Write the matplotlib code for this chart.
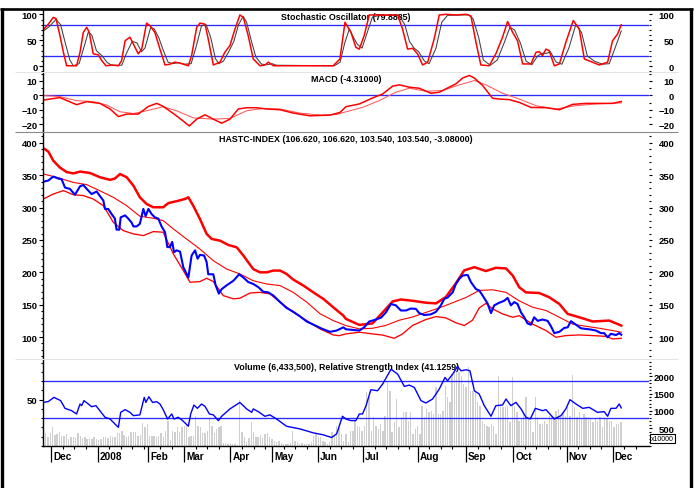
import numpy as np
import matplotlib
matplotlib.use("Agg")
import matplotlib.pyplot as plt
from matplotlib.lines import Line2D
from matplotlib.ticker import MultipleLocator
from matplotlib.transforms import offset_copy

plt.rcParams['font.family'] = ['Liberation Sans', 'DejaVu Sans']
plt.rcParams['font.weight'] = 'bold'

# ---- data (x = trading day index from the first bar) ----
month_days = [3.5, 23.5, 45.5, 61, 81, 99, 119, 138.5, 162, 183, 203.5, 226.5, 246.5]
month_labels = ['Dec', '2008', 'Feb', 'Mar', 'Apr', 'May', 'Jun', 'Jul', 'Aug', 'Sep', 'Oct', 'Nov', 'Dec']

k_day = [0, 2.2, 4.3, 5.5, 7.2, 8.7, 10.1, 14.4, 15.9, 17.3, 18.8, 19.9, 21.6, 23.8, 25.3, 27.1, 29.6,
         32.5, 33.9, 35.4, 37.5, 39.7, 41.1, 42.6, 44.7, 46.2, 48.3, 50.5, 52.7, 54.8, 57, 59.2, 62.8,
         64.2, 66.4, 67.8, 70, 71.4, 73.6, 76.5, 78.6, 80.8, 83, 85.1, 86.6, 88.7, 90.9, 93.8, 96, 97.4,
         99.6, 125.5, 128.4, 130.6, 133.2, 135.3, 136.8, 138.9, 141.1, 145.4, 153.4, 155.5, 157.7, 159.9,
         162, 164.2, 166.4, 169.2, 171.4, 174.3, 178.6, 183, 185.1, 187.3, 189.4, 193, 195.9, 198.8, 201,
         203.2, 205.3, 207.5, 211.1, 213.3, 214.7, 216.1, 217.6, 219, 221.2, 223.4, 226.2, 229.4, 232,
         234.2, 237.1, 240.7, 244.3, 246.4, 248.6, 250.2]
k_val = [70.5, 81, 94, 92, 59, 27, 1, 1, 27, 65, 75, 65, 24, 22, 11, 1, 2.5, 1, 11, 49, 56, 36.5, 24, 33,
         83, 78, 65, 33, 2.5, 4, 8, 6, 1, 20.5, 75, 83, 81, 52.5, 2.5, 8, 27, 40, 72, 98.7, 94, 59, 14, 1,
         2.5, 8, 1, 1, 14, 84.6, 65, 36.5, 33, 59, 98.7, 98.7, 98.7, 72, 33, 34.6, 24, 2.5, 8, 52.5, 98.7,
         100, 98.7, 100, 97, 46, 2.5, 1, 24, 56, 86, 65, 49, 4.5, 4.5, 27, 28, 20.5, 33, 30, 1, 4.5, 46,
         88, 72, 14, 9, 2.5, 8, 49, 62, 79.9]

d_day = [0, 2.5, 5.5, 7.5, 9.5, 11.5, 13, 15.5, 17.5, 19.5, 21, 23, 25.5, 27.5, 29.5, 34, 36, 38.5, 40.5,
         42.5, 44, 46.5, 48, 50, 52, 54, 56, 58.5, 61, 64, 66, 68.5, 70.5, 72.5, 74.5, 76, 78, 80.5, 82.5,
         84.5, 86.5, 88, 90, 92, 94.5, 97, 99, 101, 126, 128.5, 130.5, 132.5, 134, 136, 138, 140, 142.5,
         146, 154, 156.5, 158.5, 160.5, 162.5, 165, 167, 170, 172.5, 175, 184, 186, 188.5, 190.5, 193.5,
         196.5, 199.5, 202, 204, 206.5, 209, 211.5, 214, 216, 218, 219.5, 222, 224.5, 227.5, 230.5, 233,
         235.5, 238.5, 242, 245, 247.5, 250.2]
d_val = [68, 76, 90, 80, 45, 12, 1, 5, 35, 66, 60, 30, 20, 8, 2, 2, 25, 48, 45, 28, 35, 75, 72, 55, 30, 8,
         5, 7, 4, 5, 35, 78, 80, 55, 15, 5, 10, 30, 48, 80, 96, 85, 50, 18, 4, 3, 5, 2, 1, 8, 45, 72, 58,
         42, 35, 62, 95, 98, 98, 80, 48, 35, 28, 10, 5, 35, 85, 98, 99, 92, 55, 12, 2, 12, 45, 75, 70, 45,
         10, 3, 20, 25, 25, 28, 8, 4, 35, 80, 65, 20, 10, 4, 5, 35, 68]

macd_day = [0, 7.2, 14.4, 18.8, 24.5, 28.9, 32.5, 36.1, 41.1, 45.5, 49.1, 51.9, 56.3, 59.9, 63.2, 66.4,
            70, 73.6, 77.2, 80.8, 84.4, 88, 92.3, 96.7, 102.5, 108.2, 115.4, 124.1, 128.4, 131, 136.8,
            142.5, 146.9, 151.2, 154.1, 158.4, 162.7, 167.8, 171.4, 175.7, 178.6, 181.5, 184.4, 186.6,
            190.2, 194.5, 197.4, 201.7, 206, 211.1, 217.6, 223.4, 229.1, 234.9, 240.7, 246.4, 250.2]
macd_val = [-3.3, -1.6, -6.5, -4.4, -5.6, -9.5, -14.7, -13, -13, -7.7, -5.6, -7.7, -12.6, -17, -21.2,
            -16.5, -13.5, -16.5, -19.3, -16.5, -9.5, -8.6, -8.6, -9.5, -10, -12.3, -14.2, -13.7, -11.9,
            -7.9, -6, -1.9, 0.9, 6.3, 7.2, 5.6, 4.9, 1.4, 2.1, 5.6, 7.9, 11.9, 13.7, 11.9, 6.7, -2.1,
            -2.6, -3, -4.9, -8.4, -8.6, -10, -6.3, -5.6, -5.6, -5.6, -4.3]
sig_day = [0, 7.2, 14.4, 21.6, 27.4, 33.2, 39, 44.7, 51.9, 57.7, 64.9, 73.6, 80.8, 88, 95.2, 102.5,
           111.1, 119.8, 127, 131, 138.2, 145.4, 152.6, 158.4, 165.6, 172.8, 180.1, 186.6, 191.6, 198.8,
           206, 213.3, 221.9, 230.6, 239.2, 250.2]
sig_val = [-0.2, -0.9, -3.7, -4.4, -6.7, -11.4, -12.6, -10.7, -7.9, -10.7, -15.6, -16.5, -16, -10.7,
           -9.1, -9.5, -12.3, -13.7, -13.3, -11.4, -8.4, -3.7, 2.1, 4.9, 2.8, 3.3, 7.2, 10.2, 7.2, 1.4,
           -2.6, -7.2, -9.5, -7.2, -6, -5.3]

close_day = [0, 2.2, 4.3, 6.5, 7.9, 9.4, 11.5, 13.7, 14.7, 15.9, 17.3, 18.8, 20.9, 23.1, 24.5, 26, 26.7,
             28.1, 29.6, 31, 31.7, 32.9, 33.5, 35.4, 36.8, 38.2, 39, 40.4, 41.8, 43.3, 44.3, 45.5, 46.9,
             48.3, 49.8, 51.2, 52.7, 53.7, 54.8, 55.8, 56.6, 57.7, 59.2, 60.6, 62.8, 64.2, 65.7, 66.8,
             67.8, 69.6, 70.7, 71.4, 73.6, 74.6, 76, 77.2, 79.4, 82.3, 84.8, 86.6, 88.7, 90.9, 93.1,
             95.2, 97.4, 99.6, 102.5, 105.3, 108.2, 111.1, 114, 117.6, 120.5, 124.1, 127, 129.9,
             131, 133.9, 136.8, 138.9, 141.1, 144, 146.2, 148.3, 150.5, 152.6, 154.8, 157, 159.1, 161.3,
             162.7, 164.9, 167.8, 170, 172.1, 173.6, 175, 177.2, 178.6, 180.1, 181.5, 183.7, 185.1,
             187.3, 188.7, 190.2, 192.3, 193.8, 195.2, 197.4, 199.5, 201, 202.4, 203.9, 205.3, 206.8,
             208.2, 209.6, 211.1, 212.5, 214, 216.1, 218.3, 219.7, 221.2, 223.4, 225.5, 227, 228.4,
             230.6, 232.7, 234.9, 237.1, 239.2, 241.4, 242.8, 244.3, 245.7, 247.9, 249.3, 250.2]
close = [340, 342, 348, 345, 344, 331, 329, 320, 326, 333, 335, 329, 321, 325, 318, 311, 298, 298, 290,
         283, 266, 266, 285, 288, 283, 277, 271, 271, 275, 298, 287, 298, 290, 285, 283, 271, 262, 239,
         239, 247, 231, 234, 232, 208, 192, 226, 234, 221, 227, 226, 216, 197, 197, 180, 167, 174, 180,
         187, 197, 192, 185, 182, 177, 170, 169, 164, 154, 145, 139, 132, 124, 118, 113, 108, 110, 115,
         112, 111, 110, 115, 124, 127, 130, 138, 151, 149, 141, 141, 144, 143.5, 137, 134, 135, 139,
         149, 159, 161, 169, 182, 190, 195, 196, 185, 174, 172, 164, 152, 137, 149, 153, 156, 160.5,
         149, 154, 151, 138, 130.5, 121, 119, 130.5, 125, 127, 125, 117, 106, 108, 114, 115, 124.5,
         119, 113.5, 112.5, 111.5, 110, 106, 106, 99.5, 105, 103, 106, 103.5]

upper_day = [0, 2.2, 4.3, 7.2, 10.1, 13, 15.9, 20.2, 24.5, 28.9, 31, 33.2, 36.1, 39, 41.8, 44.7, 47.6,
             51.9, 54.1, 57.7, 61.3, 62.8, 64.9, 67.8, 70.7, 72.9, 76.5, 80.1, 83.7, 86.6, 88.7, 90.9,
             93.8, 96.7, 99.6, 102.5, 105.3, 108.2, 112.6, 116.9, 121.2, 125.5, 129.9, 131, 136.8,
             142.5, 146.9, 151.2, 154.8, 159.9, 165.6, 170, 174.3, 178.6, 182.2, 186.6, 191.6, 195.9,
             200.3, 203.2, 206, 208.9, 214.7, 219, 223.4, 227, 232, 237.8, 245, 250.2]
upper = [392, 386.6, 372.7, 362, 355, 353, 355.7, 353.6, 347, 343, 345, 352, 347, 334, 316, 305.7, 300.6,
         300.6, 307, 310, 313.4, 316, 303, 282.5, 259.4, 251.6, 249, 242.3, 238.7, 226, 215.6, 205, 200,
         200, 202.7, 202.7, 197.5, 188.8, 179.5, 169, 159, 146, 133, 128, 118.7, 121, 138, 155, 158,
         156, 153, 152, 162, 183, 203, 208, 202, 207, 206, 195, 177, 169, 168, 161.5, 151, 135.7, 130.5,
         124, 125.4, 117.7]

mid_day = [0, 5.8, 13, 18.8, 24.5, 30.3, 36.1, 41.8, 47.6, 51.9, 56.3, 62, 67.8, 73.6, 79.4, 85.1, 90.9,
           96.7, 102.5, 108.2, 114, 119.8, 125.5, 131, 136.8, 142.5, 148.3, 154.1, 159.9, 165.6, 171.4,
           177.2, 182.9, 188.7, 194.5, 200.3, 206, 211.8, 217.6, 223.4, 229.1, 234.9, 240.7, 246.4, 250.2]
middle = [352, 347, 339, 335.6, 326, 316, 303, 286.7, 283.6, 280, 267, 251.6, 236, 218, 205, 197.5, 187,
          182, 179.5, 169, 154, 136, 125.4, 117.7, 112.5, 113.5, 118, 126, 131, 138, 145, 153, 161, 172,
          173, 169, 156, 146, 141, 130.5, 120, 116.6, 113.5, 110, 107.4]

low_day = [0, 4.3, 8.7, 13, 17.3, 21.6, 26, 30.3, 34.6, 39, 43.3, 47.6, 51.9, 56.3, 60.6, 63.5, 67.8,
           70.7, 73.6, 77.9, 82.3, 85.1, 89.5, 93.8, 98.1, 102.5, 108.2, 114, 119.8, 125.5, 128, 131,
           136.8, 142.5, 146.9, 151.9, 155.5, 159.9, 165.6, 170, 174.3, 178.6, 182.2, 185.8, 188.7,
           191.6, 194.5, 198.8, 203.2, 206, 211.8, 217.6, 221.9, 226.2, 232, 237.8, 243.6, 246.4, 250.2]
lower = [313.4, 321, 326.3, 320, 318.6, 313.4, 303, 277.4, 264.5, 259.4, 256.8, 263, 262, 228.4, 202.7,
         184.7, 185.7, 190.8, 185.7, 164, 159, 160, 168, 169, 166.6, 154, 138.3, 125.4, 112.5, 103.2, 102,
         104.8, 107.4, 104.8, 103, 98, 104.8, 118, 127, 131.6, 129.5, 122, 117.7, 126, 145, 152, 143.5,
         135.7, 130.5, 133, 120, 110, 99.6, 102.2, 103.2, 102.2, 101, 97, 98]

rsi_day = [0, 2.2, 4.6, 7.5, 9.4, 12.3, 14.4, 15.9, 16.6, 17.6, 19.5, 20.9, 22.8, 24.5, 26.7, 28.9, 31,
           32.5, 33.5, 35.4, 37.5, 39, 41.8, 43.7, 44.4, 45.7, 47.3, 49.1, 50.5, 51.9, 53.8, 55.6, 56.6,
           58.4, 60.3, 62.8, 63.8, 65.2, 66.7, 68.5, 70, 71.9, 73.6, 75.8, 77.2, 80.8, 85.1, 88, 90.2,
           90.9, 93.1, 95.9, 98.1, 101, 105.3, 111.1, 116.9, 121.2, 124.8, 127, 129.5, 131, 133.2, 135.3,
           136.8, 138.2, 139.7, 141.8, 144.7, 146.9, 150.5, 153.4, 156.3, 158.4, 160.6, 163.5, 165.6,
           168.5, 171.4, 173.9, 175, 177.2, 179.3, 180.8, 183, 184.7, 186.6, 188.7, 190.9, 193.8, 195.9,
           198.8, 200.3, 202.4, 204.6, 206.8, 208.9, 210.8, 213, 216.1, 217.6, 221.2, 224.1, 226.2, 228,
           230.6, 233.5, 236.3, 239.9, 242.8, 244.3, 245.7, 247.9, 249.3, 250.2]
rsi = [47, 48, 52.5, 49, 40.6, 38, 34.5, 45.3, 43.5, 49, 45.3, 42.4, 43.5, 38, 31, 29, 23.7, 20, 36.3,
       39.2, 36.3, 32.7, 33.5, 52.5, 47, 53.2, 47, 47.8, 45.3, 39.2, 29, 34.5, 29, 31, 27.3, 21.2, 34.5,
       44.2, 40.6, 45.3, 42.8, 34.5, 33.5, 27.3, 32, 40, 47, 40, 36.3, 40, 37, 32, 33.5, 29, 21.2, 18.3,
       14, 11.9, 9, 13, 32, 29, 27.3, 27.3, 34.5, 34.5, 43.5, 60.8, 59.7, 66.9, 83, 77.7, 64.4, 65.8,
       63.3, 48.9, 46.4, 50.7, 61.5, 74.1, 70.5, 77.7, 86, 81.3, 82.4, 81.3, 59.7, 56.1, 43.5, 32, 43.5,
       44.2, 50.7, 43.5, 47.1, 40, 31, 29.1, 40.6, 38.1, 39.2, 29.1, 32.7, 40, 50, 45.3, 40.6, 41.7,
       36.3, 37, 32, 40.6, 40.6, 45.3, 41.1]

# volume in units of 10000 shares, one value per trading day
volume = [290, 360, 260, 360, 530, 310, 330, 390, 290, 290, 330, 200, 240, 260, 220, 360, 290, 220, 240,
          200, 200, 200, 260, 200, 170, 200, 240, 260, 220, 290, 260, 260, 360, 360, 430, 320, 260, 290,
          390, 410, 410, 290, 320, 650, 530, 620, 290, 290, 290, 240, 290, 360, 240, 430, 720, 170, 430,
          410, 550, 390, 530, 580, 620, 240, 290,
          290, 865, 578, 549, 361, 361, 435, 768, 578, 361, 482, 530, 578, 80, 70, 51, 70, 51, 51, 32,
          1300, 387, 243, 100, 224, 674, 387, 243, 262, 310, 224, 340, 361, 243, 195, 147, 100, 147, 70,
          51, 51, 51, 70, 435, 147, 100, 51, 70, 51, 51, 51, 100, 290, 340, 243, 262, 147, 100, 51, 100,
          387, 290, 578, 530, 340,
          150, 340, 100, 435, 435, 722, 580, 530, 435, 580, 1535, 1390, 435, 818, 580, 483, 627, 435,
          866, 1870, 1580, 387, 675, 1345, 530, 818, 963, 963, 722, 963, 340, 483, 580, 340, 1150, 818,
          1060, 963, 1010, 915, 1680, 915, 915, 1010, 1727, 1390, 1250, 2063, 2207, 2111, 2111, 2015,
          1775, 1680, 2255, 1580, 1580, 1580, 1250, 1150, 722, 627, 580, 530, 627,
          580, 340, 2015, 1200, 1100, 1100, 1150, 675, 1967, 1150, 963, 722, 770, 915, 1390, 770, 722,
          387, 1390, 818, 627, 627, 722, 627, 866, 818, 818, 1010, 1060, 866, 963, 866, 1100, 866, 2034,
          1100, 818, 963, 770, 915, 818, 818, 770, 675, 770, 722, 818, 530, 818, 770, 722, 722, 530, 627,
          627, 675]

# ---- layout (pixel based) ----
W, H = 696, 489
fig = plt.figure(figsize=(W / 100, H / 100), dpi=100)
X0, X1 = 43.3, 649
XMAX = 262.2

RED = '#ff0000'
BLUE = '#0000ff'
HBLUE = '#2b2bff'
TICKFS = 6.8


def px_axes(top, bottom):
    return fig.add_axes([X0 / W, 1 - bottom / H, (X1 - X0) / W, (bottom - top) / H])


def setup_left(ax, ylim, major, minor):
    ax.set_xlim(0, XMAX)
    ax.set_ylim(*ylim)
    ax.set_yticks(major)
    ax.yaxis.set_minor_locator(MultipleLocator(minor))
    for s in ('top', 'right', 'bottom'):
        ax.spines[s].set_visible(False)
    ax.spines['left'].set_visible(True)
    ax.spines['left'].set_linewidth(1.0)
    ax.yaxis.tick_left()
    ax.tick_params(axis='y', which='both', direction='out', labelsize=TICKFS, width=0.8, pad=1)
    ax.tick_params(axis='y', which='major', length=3.2)
    ax.tick_params(axis='y', which='minor', length=1.8)
    ax.tick_params(axis='x', which='both', bottom=False, labelbottom=False)


def setup_right(ax, ylim, major, minor):
    ax.set_xlim(0, XMAX)
    ax.set_ylim(*ylim)
    ax.set_yticks(major)
    ax.yaxis.set_minor_locator(MultipleLocator(minor))
    for s in ('top', 'right', 'left'):
        ax.spines[s].set_visible(False)
    ax.spines['bottom'].set_visible(False)
    ax.yaxis.tick_right()
    ax.tick_params(axis='y', which='both', direction='out', labelsize=TICKFS, width=0.8, pad=15.8)
    ax.tick_params(axis='y', which='major', length=2.4)
    ax.tick_params(axis='y', which='minor', length=1.6)
    ax.tick_params(axis='x', which='both', bottom=False, labelbottom=False)
    for lbl in ax.get_yticklabels():
        lbl.set_horizontalalignment('right')


def title(ax, text, down):
    ax.annotate(text, xy=(0.5, 1), xycoords='axes fraction', xytext=(0, -down),
                textcoords='offset pixels', ha='center', va='baseline', fontsize=6.4,
                fontweight='bold', zorder=1)


# Stochastic
ax1 = px_axes(10, 73)
ax1r = ax1.twinx()
setup_left(ax1, (-11, 110.2), [0, 50, 100], 10)
setup_right(ax1r, (-11, 110.2), [0, 50, 100], 10)
ax1.axhline(80, color=HBLUE, lw=0.95)
ax1.axhline(20, color=HBLUE, lw=0.95)
ax1.plot(d_day, d_val, color='#404040', lw=0.75)
ax1.plot(k_day, k_val, color=RED, lw=1.1)
title(ax1, 'Stochastic Oscillator (79.8885)', 9.7)

# MACD
ax2 = px_axes(73, 132)
ax2r = ax2.twinx()
setup_left(ax2, (-24.7, 16.1), [-20, -10, 0, 10], 5)
setup_right(ax2r, (-24.7, 16.1), [-20, -10, 0, 10], 5)
ax2.axhline(0, color=HBLUE, lw=0.95)
ax2.plot(sig_day, sig_val, color='#ff5a5a', lw=0.75)
ax2.plot(macd_day, macd_val, color=RED, lw=1.1)
title(ax2, 'MACD (-4.31000)', 9)

# Price with bands
ax3 = px_axes(132, 360)
ax3r = ax3.twinx()
price_ticks = [100, 150, 200, 250, 300, 350, 400]
setup_left(ax3, (66, 418.5), price_ticks, 10)
setup_right(ax3r, (66, 418.5), price_ticks, 10)
ax3.plot(upper_day, upper, color=RED, lw=1.8)
ax3.plot(mid_day, middle, color=RED, lw=0.8)
ax3.plot(low_day, lower, color=RED, lw=0.95)
ax3.plot(close_day, close, color=BLUE, lw=1.5)
title(ax3, 'HASTC-INDEX (106.620, 106.620, 103.540, 103.540, -3.08000)', 10.3)

# Volume (right scale) + RSI (left scale)
axv = px_axes(360, 446.8)
axr = axv.twinx()
days = np.arange(len(volume))
axv.bar(days, volume, width=0.6, color='#cfcfcf', linewidth=0)
setup_right(axv, (0, 2490), [500, 1000, 1500, 2000], 100)
setup_left(axr, (0, 94.1), [50], 10)
axv.spines['bottom'].set_visible(True)
axv.spines['bottom'].set_linewidth(1.0)

edges = month_days + [XMAX]
week_days = []
for a, b in zip(edges[:-1], edges[1:]):
    week_days += list(np.arange(a + 5, b - 1.5, 5))
axv.set_xticks(month_days)
axv.set_xticks(week_days, minor=True)
axv.tick_params(axis='x', which='both', bottom=True, labelbottom=False, direction='out', color='black')
axv.tick_params(axis='x', which='major', length=11.2, width=0.9)
axv.tick_params(axis='x', which='minor', length=2.4, width=0.8)

trans = offset_copy(axv.get_xaxis_transform(), fig=fig, x=2, y=0, units='dots')
for d, lab in zip(month_days, month_labels):
    axv.text(d, -13.5 / 86.8, lab, transform=trans, ha='left', va='baseline',
             fontsize=7.2, fontweight='bold')

axr.axhline(70, color=HBLUE, lw=0.95)
axr.axhline(30, color=HBLUE, lw=0.95)
axr.plot(rsi_day, rsi, color=BLUE, lw=1.0)
title(axr, 'Volume (6,433,500), Relative Strength Index (41.1259)', 10)

fig.text(662.5 / W, 1 - 439.5 / H, 'x10000', fontsize=5, fontweight='normal', ha='center', va='center',
         bbox=dict(boxstyle='square,pad=0.15', fc='white', ec='black', lw=0.8))


# ---- separators and outer frame ----
def fig_line(xs, ys, color, lw):
    fig.add_artist(Line2D([x / W for x in xs], [1 - y / H for y in ys], transform=fig.transFigure,
                          color=color, lw=lw, solid_capstyle='butt'))


fig_line([15, 678], [73, 73], '#e4e4e4', 0.8)
fig_line([15, 678], [132.5, 132.5], '#8a8a8a', 0.8)
fig_line([15, 678], [360, 360], '#e4e4e4', 0.8)
fig_line([0, 693], [9.5, 9.5], 'black', 1.9)
fig_line([1.7, 1.7], [8.5, 489], 'black', 2.4)
fig_line([691.3, 691.3], [8.5, 489], 'black', 2.4)

fig.savefig('out.png', dpi=100)
